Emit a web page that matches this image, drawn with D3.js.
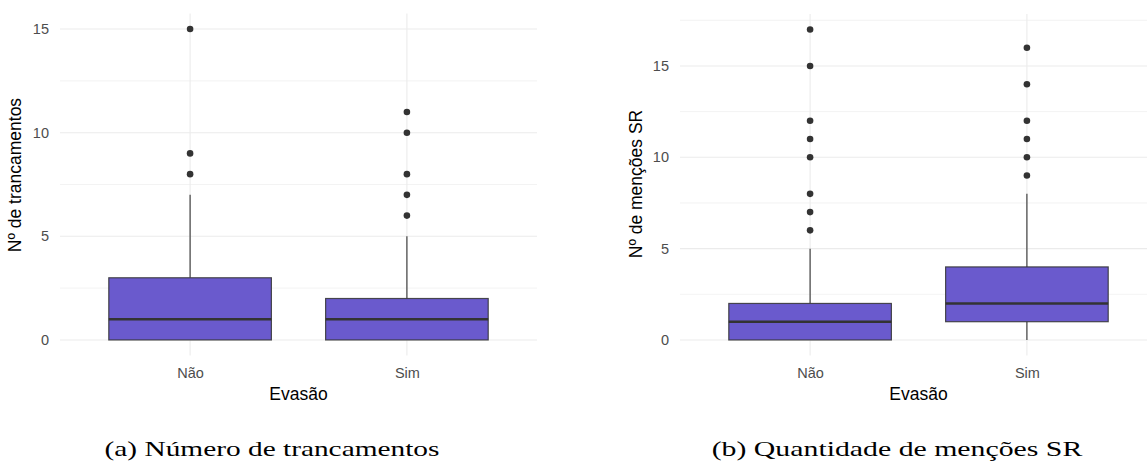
<!DOCTYPE html>
<html>
<head>
<meta charset="utf-8">
<script src="https://cdn.jsdelivr.net/npm/d3@7"></script>
<style>
  html, body { margin: 0; padding: 0; background: #fff; }
  svg { display: block; }
</style>
</head>
<body>
<svg id="fig" width="1147" height="467"></svg>
<script>
// Categories on the x axis
const categorias = ["Não", "Sim"];

// (a) Número de trancamentos — box statistics per category
const trancQ1 = [0, 0];
const trancMediana = [1, 1];
const trancQ3 = [3, 2];
const trancBigodeMin = [0, 0];
const trancBigodeMax = [7, 5];
const trancOutliers = [[8, 9, 15], [6, 7, 8, 10, 11]];
const trancTicks = [0, 5, 10, 15];
const trancMinor = [2.5, 7.5, 12.5];

// (b) Quantidade de menções SR — box statistics per category
const srQ1 = [0, 1];
const srMediana = [1, 2];
const srQ3 = [2, 4];
const srBigodeMin = [0, 0];
const srBigodeMax = [5, 8];
const srOutliers = [[6, 7, 8, 10, 11, 12, 15, 17], [9, 10, 11, 12, 14, 16]];
const srTicks = [0, 5, 10, 15];
const srMinor = [2.5, 7.5, 12.5, 17.5];

const svg = d3.select("#fig");
const FILL = "#6A5ACD";
const INK = "#333333";
const GRID = "#EBEBEB";

function boxplot(opts) {
  const g = svg.append("g");
  const x = d3.scalePoint().domain(categorias).range([opts.left, opts.right]).padding(0.6);
  const y = d3.scaleLinear().domain(opts.domain).range([opts.bottom, opts.top]);
  const bw = x.step() * 0.75;

  // minor grid
  g.selectAll(".minor").data(opts.minor).join("line")
    .attr("x1", opts.left).attr("x2", opts.right)
    .attr("y1", d => y(d)).attr("y2", d => y(d))
    .attr("stroke", GRID).attr("stroke-width", 0.6);
  // major grid
  g.selectAll(".major").data(opts.ticks).join("line")
    .attr("x1", opts.left).attr("x2", opts.right)
    .attr("y1", d => y(d)).attr("y2", d => y(d))
    .attr("stroke", GRID).attr("stroke-width", 1.1);
  g.selectAll(".vgrid").data(categorias).join("line")
    .attr("x1", d => x(d)).attr("x2", d => x(d))
    .attr("y1", opts.top).attr("y2", opts.bottom)
    .attr("stroke", GRID).attr("stroke-width", 1.1);

  // y axis tick labels
  const yAxis = d3.axisLeft(y).tickValues(opts.ticks).tickSize(0).tickPadding(0).tickFormat(d3.format("d"));
  const ya = g.append("g").attr("transform", `translate(${opts.left - 11},0)`).call(yAxis);
  ya.select(".domain").remove();
  ya.selectAll("text").attr("fill", "#4D4D4D").attr("font-size", 14.5)
    .attr("font-family", "Liberation Sans, Arial, sans-serif");

  // x axis tick labels
  const xAxis = d3.axisBottom(x).tickSize(0).tickPadding(0);
  const xa = g.append("g").attr("transform", `translate(0,${opts.bottom + 12.5})`).call(xAxis);
  xa.select(".domain").remove();
  xa.selectAll("text").attr("fill", "#4D4D4D").attr("font-size", 14.5)
    .attr("font-family", "Liberation Sans, Arial, sans-serif").attr("dy", "0.71em");

  const idx = categorias.map((c, i) => i);

  // whiskers
  g.selectAll(".whiskerUp").data(idx).join("line")
    .attr("x1", i => x(categorias[i])).attr("x2", i => x(categorias[i]))
    .attr("y1", i => y(opts.q3[i])).attr("y2", i => y(opts.max[i]))
    .attr("stroke", INK).attr("stroke-width", 1.1);
  g.selectAll(".whiskerDown").data(idx).join("line")
    .attr("x1", i => x(categorias[i])).attr("x2", i => x(categorias[i]))
    .attr("y1", i => y(opts.q1[i])).attr("y2", i => y(opts.min[i]))
    .attr("stroke", INK).attr("stroke-width", 1.1);

  // boxes
  g.selectAll(".box").data(idx).join("rect")
    .attr("x", i => x(categorias[i]) - bw / 2)
    .attr("width", bw)
    .attr("y", i => y(opts.q3[i]))
    .attr("height", i => y(opts.q1[i]) - y(opts.q3[i]))
    .attr("fill", FILL).attr("stroke", INK).attr("stroke-opacity", 0.85).attr("stroke-width", 1.2);

  // medians
  g.selectAll(".median").data(idx).join("line")
    .attr("x1", i => x(categorias[i]) - bw / 2).attr("x2", i => x(categorias[i]) + bw / 2)
    .attr("y1", i => y(opts.med[i])).attr("y2", i => y(opts.med[i]))
    .attr("stroke", INK).attr("stroke-width", 2.6);

  // outliers
  const pts = idx.flatMap(i => opts.out[i].map(v => ({ c: categorias[i], v })));
  g.selectAll(".out").data(pts).join("circle")
    .attr("cx", d => x(d.c)).attr("cy", d => y(d.v)).attr("r", 3.3)
    .attr("fill", INK);

  // axis titles
  g.append("text")
    .attr("x", (opts.left + opts.right) / 2).attr("y", opts.bottom + 44)
    .attr("text-anchor", "middle").attr("font-size", 17.5)
    .attr("font-family", "Liberation Sans, Arial, sans-serif").attr("fill", "#000")
    .text("Evasão");
  g.append("text")
    .attr("transform", `translate(${opts.ytitleX},${opts.ytitleY}) rotate(-90)`)
    .attr("text-anchor", "middle").attr("font-size", 17.5)
    .attr("font-family", "Liberation Sans, Arial, sans-serif").attr("fill", "#000")
    .text(opts.ytitle);

  // caption, widened horizontally to the serif face's set width
  const cap = g.append("text")
    .attr("x", 0).attr("y", 0)
    .attr("text-anchor", "middle").attr("font-size", 21)
    .attr("font-family", "Liberation Serif, Times New Roman, serif").attr("fill", "#000")
    .text(opts.caption);
  const natural = cap.node().getComputedTextLength();
  const sx = opts.capLen / natural;
  cap.attr("transform", `translate(${opts.capX},456) scale(${sx},1)`);
}

boxplot({
  left: 60, right: 537, top: 13.5, bottom: 355.5,
  domain: [-0.75, 15.75],
  ticks: trancTicks, minor: trancMinor,
  q1: trancQ1, med: trancMediana, q3: trancQ3,
  min: trancBigodeMin, max: trancBigodeMax, out: trancOutliers,
  ytitle: "Nº de trancamentos", ytitleX: 21, ytitleY: 175,
  caption: "(a) Número de trancamentos", capX: 272, capLen: 335
});

boxplot({
  left: 680, right: 1157, top: 13.9, bottom: 355.5,
  domain: [-0.85, 17.85],
  ticks: srTicks, minor: srMinor,
  q1: srQ1, med: srMediana, q3: srQ3,
  min: srBigodeMin, max: srBigodeMax, out: srOutliers,
  ytitle: "Nº de menções SR", ytitleX: 642, ytitleY: 184,
  caption: "(b) Quantidade de menções SR", capX: 897, capLen: 371
});
</script>
</body>
</html>
